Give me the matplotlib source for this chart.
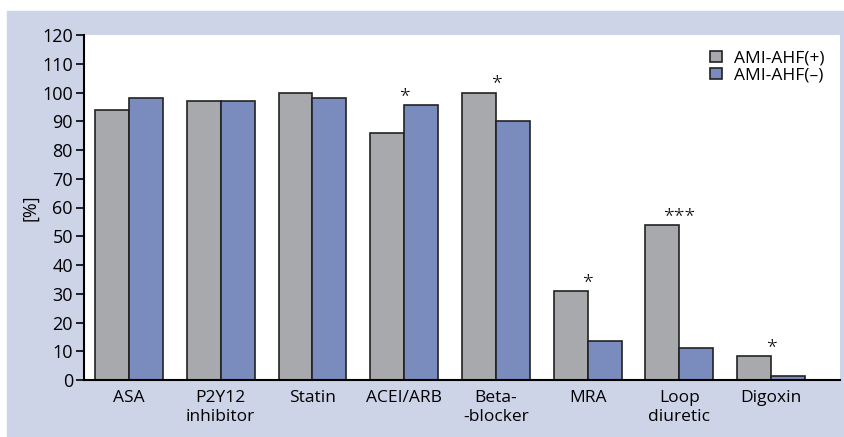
import numpy as np
import matplotlib.pyplot as plt
from matplotlib.patches import Rectangle

plt.rcParams['font.family'] = ['Open Sans', 'DejaVu Sans']

drugs = ['ASA', 'P2Y12\ninhibitor', 'Statin', 'ACEI/ARB', 'Beta-\n-blocker',
         'MRA', 'Loop\ndiuretic', 'Digoxin']
ahf_pos = [94, 97, 100, 86, 100, 31, 54, 8.5]
ahf_neg = [98, 97, 98, 95.5, 90, 13.5, 11, 1.5]
signif = ['', '', '', '*', '*', '*', '***', '*']
series_names = ['AMI-AHF(+)', 'AMI-AHF(–)']

gray = '#a8a9ad'
blue = '#7a8bbe'
panel = '#ced4e8'

fig = plt.figure(figsize=(8.45, 4.37), dpi=100)
fig.patches.append(Rectangle((7 / 845, 0), 1 - 7 / 845, 1 - 11 / 437,
                             transform=fig.transFigure, color=panel, zorder=-5))

ax = fig.add_axes([84 / 845, 57 / 437, 756 / 845, 345 / 437])
ax.set_zorder(2)
ax.set_facecolor('white')

x = np.arange(len(drugs))
w = 0.37
ax.bar(x - w / 2, ahf_pos, w, color=gray, edgecolor='#222222', linewidth=1.2,
       label=series_names[0])
ax.bar(x + w / 2, ahf_neg, w, color=blue, edgecolor='#222222', linewidth=1.2,
       label=series_names[1])

# significance marks above each pair
for i, s in enumerate(signif):
    if s:
        top = max(ahf_pos[i], ahf_neg[i])
        ax.annotate(s, (x[i], top), xytext=(0, 0), textcoords='offset points',
                    ha='center', va='bottom', fontsize=14, fontweight='light')

ax.set_xlim(-0.49, 7.75)
ax.set_ylim(0, 120)
ax.set_yticks(np.arange(0, 121, 10))
ax.set_xticks(x)
ax.set_xticklabels(drugs, fontsize=12.5, linespacing=1.3)
ax.tick_params(axis='x', length=0, pad=7)
ax.tick_params(axis='y', length=6, width=1.2, labelsize=13, pad=2)
for side in ['top', 'right']:
    ax.spines[side].set_visible(False)
for side in ['left', 'bottom']:
    ax.spines[side].set_linewidth(1.5)
ax.set_ylabel('[%]', fontsize=13, labelpad=2)

ax.legend(loc='upper right', bbox_to_anchor=(1.0, 1.0), frameon=False,
          fontsize=12.5, handlelength=0.65, handleheight=0.65, handletextpad=0.7,
          labelspacing=0.05, borderaxespad=0.5)

fig.savefig('out.png', dpi=100)
